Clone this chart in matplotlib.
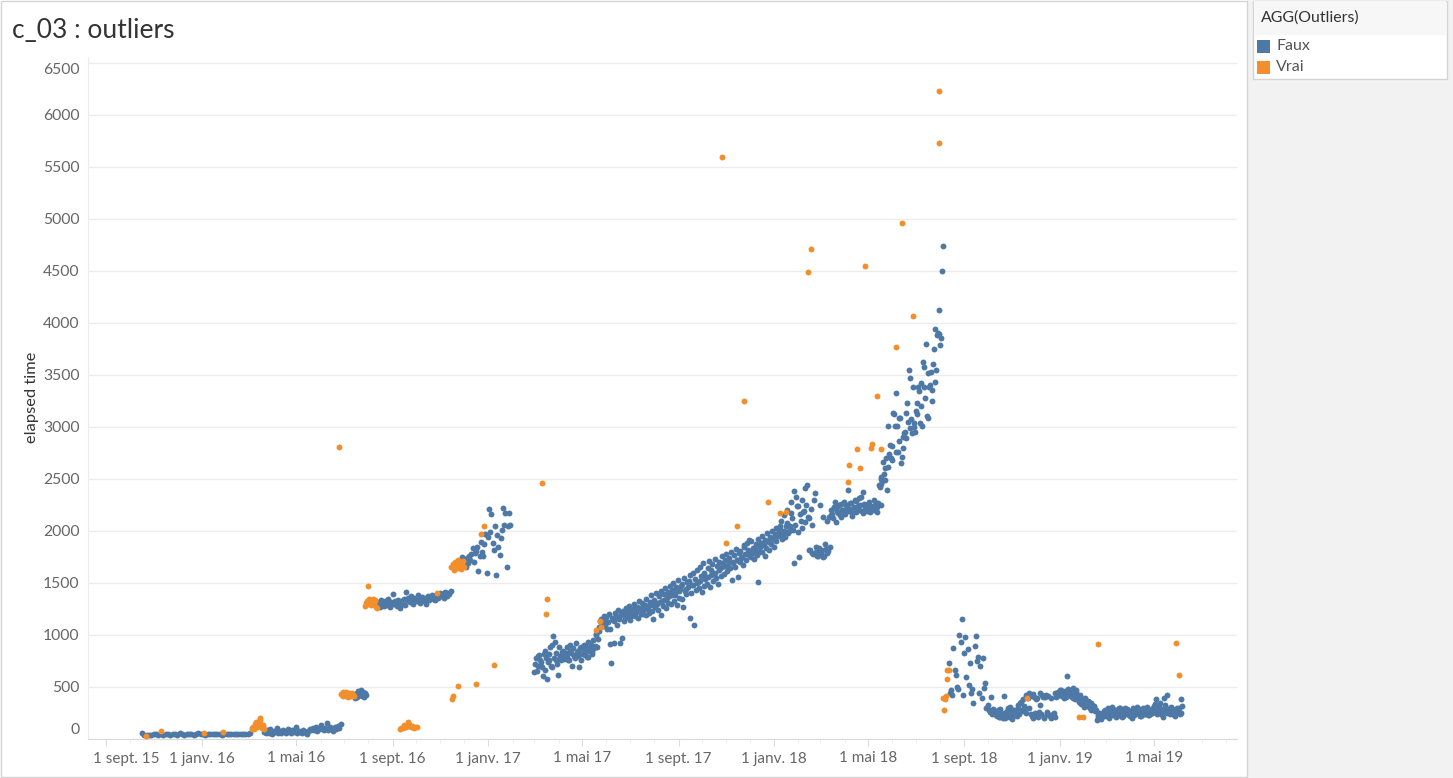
# c_03 : elapsed time per run, outliers flagged in orange

import matplotlib
matplotlib.use('Agg')
import matplotlib.pyplot as plt
import matplotlib.dates as mdates
import matplotlib.transforms as mtransforms
from matplotlib.patches import Rectangle
import pandas as pd

plt.rcParams['font.family'] = ['Lato', 'DejaVu Sans']

# --- data -----------------------------------------------------------------
# "Faux" runs, each block = first date, days between runs, elapsed times
faux_a_start, faux_a_step = '2015-10-17', 3
faux_a = [55, 40, 35, 42, 38, 45, 50, 40, 44, 38, 47, 52, 41, 45, 49, 43, 55, 48,
          42, 46, 51, 44, 40, 47, 53, 45, 49, 42, 46, 50, 44, 48, 52, 45, 43, 49,
          47, 51, 44, 46, 50, 48, 45, 52, 47, 50, 55]

faux_b_start, faux_b_step = '2016-03-21', 2
faux_b = [70, 55, 85, 60, 95, 50, 75, 65, 110, 60, 80, 55, 90, 70, 60, 100, 75, 55,
          85, 65, 120, 60, 80, 70, 55, 90, 65, 50, 75, 95, 85, 105, 90, 120, 80, 100,
          130, 95, 85, 110, 150, 90, 120, 100, 80, 115, 95, 125, 105, 140]

faux_c_start, faux_c_step = '2016-07-14', 1
faux_c = [410, 395, 430, 445, 400, 460, 420, 435, 470, 440, 415, 455, 430, 405, 445, 425]

faux_d_start, faux_d_step = '2016-08-13', 1.5
faux_d = [1290, 1320, 1265, 1340, 1300, 1275, 1330, 1310, 1285, 1350, 1270, 1320,
          1300, 1390, 1295, 1330, 1280, 1340, 1310, 1260, 1325, 1300, 1345, 1290,
          1415, 1340, 1355, 1320, 1370, 1335, 1300, 1360, 1345, 1325, 1380, 1350,
          1310, 1340, 1365, 1330, 1355, 1295, 1345, 1370, 1335, 1360, 1385, 1350,
          1375, 1340, 1395, 1360, 1380, 1400, 1370, 1390, 1355, 1410, 1385, 1375,
          1400, 1395, 1420]

faux_f_start, faux_f_step = '2016-11-27', 1.5
faux_f = [1700, 1753, 1680, 1724, 1650, 1740, 1690, 1760, 1720, 1780, 1840, 1700,
          1790, 1810, 1850, 1618, 1760, 1897, 1800, 1763, 1870, 1974, 1599, 1945,
          2214, 1993, 2166, 1888, 1820, 2048, 1580, 1964, 1850, 1772, 1935, 2013,
          2224, 2061, 2176, 1657, 2051, 2176, 2060]

# 2017 - spring 2018 ramp, two interleaved sets of runs
faux_g_start, faux_g_step = '2017-03-01', 2
faux_g = [640, 780, 700, 810, 740, 690, 820, 660, 575, 760, 880, 690, 990, 935, 760,
          615, 790, 760, 800, 770, 830, 790, 760, 850, 700, 810, 780, 840, 800, 870,
          760, 830, 810, 880, 790, 850, 900, 820, 870, 1010, 880, 1040,
          1130, 1110, 1150, 1090, 1170, 1120, 1060, 730, 1140, 920, 1180, 1100, 1150,
          1200, 970, 1130, 1210, 1170, 1230, 1140, 1190, 1250, 1180, 1220, 1160, 1260,
          1200, 1240, 1280, 1190, 1250, 1210, 1290, 1230, 1150, 1270, 1300, 1240, 1320,
          1190, 1280, 1340, 1260, 1310, 1370,
          1300, 1380, 1330, 1410, 1290, 1360, 1440, 1350, 1265, 1420, 1390, 1460, 1160,
          1400, 1480, 1100, 1430, 1500, 1450, 1520, 1410, 1470, 1540, 1490, 1560, 1460,
          1580, 1520, 1600, 1550, 1490, 1620, 1570, 1650, 1590, 1660, 1610, 1700, 1640,
          1530, 1690, 1650, 1720, 1560,
          1700, 1740, 1670, 1868, 1720, 1780, 1916, 1750, 1800, 1730, 1830, 1770, 1512,
          1850, 1800, 1880, 1760, 1840, 1900, 1820, 1870, 1930, 1850, 1900, 1960,
          1990, 2051, 1920, 2000, 1945, 2080, 1980, 2050, 2176, 2010, 1695, 2330, 2243,
          1753, 2100, 2030, 2190, 2410, 2445, 2120, 1820, 2060, 1780, 2368, 1850, 1760,
          2253, 1800, 2137, 1760, 1830, 2100, 2137, 2200, 2160, 2230, 2282, 2190, 2240,
          2150, 2260, 2200, 2180, 2250, 2397, 2210, 2270, 2170, 2230, 2290, 2200, 2320,
          2250, 2190, 2378, 2230, 2210, 2260, 2180, 2240, 2210, 2200, 2270, 2230, 2445,
          2250]

faux_g2_start, faux_g2_step = '2017-03-02', 2
faux_g2 = [720, 650, 800, 760, 700, 610, 850, 780, 740, 820, 700, 900, 780, 830, 720,
           880, 800, 840,
           850, 810, 880, 760, 900, 830, 870, 800, 920, 850, 695, 880, 820, 900, 860,
           790, 930, 870, 840, 950, 890, 1000, 960, 1080,
           1150, 1090, 1180, 1120, 1060, 1200, 917, 1160, 1130, 1210, 1170, 1240, 925,
           1190, 1230, 1160, 1260, 1210, 1280, 1180, 1240, 1300, 1220, 1270, 1330, 1250,
           1310, 1200, 1290, 1350, 1270, 1320, 1380, 1290, 1340, 1400, 1310, 1370, 1420,
           1330, 1390, 1450, 1360, 1410, 1470,
           1430, 1500, 1380, 1460, 1530, 1420, 1470, 1490, 1550, 1440, 1510, 1520, 1580,
           1480, 1600, 1540, 1620, 1510, 1650, 1570, 1690, 1600, 1560, 1640, 1710, 1620,
           1680, 1590, 1730, 1660, 1700, 1640, 1760, 1690, 1720, 1780, 1650, 1740, 1800,
           1700, 1770, 1830, 1720, 1790,
           1810, 1750, 1850, 1780, 1880, 1820, 1760, 1900, 1840, 1790, 1870, 1920, 1800,
           1880, 1950, 1860, 1910, 1980, 1890, 1940, 2000, 1920, 1970, 2030, 1950,
           2020, 2100, 1960, 2150, 2050, 2200, 2000, 2280, 2120, 2380, 2060, 2240, 1990,
           2160, 2300,
           2180, 2090, 2250, 2130, 1820, 2210, 1790, 2300,
           1800, 1760, 1840, 1780, 1820, 1750, 1870, 1790, 1810, 1850, 2150,
           2120, 2220, 2090, 2170, 2250, 2130, 2200, 2280, 2160, 2230, 2190, 2270, 2140,
           2210, 2300, 2180, 2240, 2200, 2330, 2170, 2260, 2220, 2190, 2280, 2240, 2210,
           2300, 2250, 2180, 2270, 2420, 2500]

faux_h_start, faux_h_step = '2018-05-17', 1
faux_h = [2450, 2522, 2480, 2666, 2550, 2600, 2490, 2700, 2397, 2618, 3004, 2740,
          2830, 2705, 2820, 2680, 3138, 3128, 3013, 2760, 3321, 3004, 2762, 3090,
          2860, 3090, 2656, 2714, 2898, 2801, 2937, 2950, 3138, 2897, 3234, 3050,
          3542, 2985, 3465, 3071, 2940, 3388, 3042, 2994, 2946, 3157, 3234, 3120,
          3388, 3340, 3042, 3426, 3205, 3010, 3619, 3388, 3580, 3280, 3800, 3100,
          3090, 3520, 3388, 3407, 3532, 3350, 3244, 3600, 3753, 3436, 3945, 3542,
          3880, 3900, 4119, 3888, 3791, 3850, 4494, 4740]

faux_i_start, faux_i_step = '2018-08-12', 1.5
faux_i = [734, 446, 470, 420, 878, 667, 618, 503, 480, 1003, 936, 1157, 426, 830,
          983, 599, 868, 522, 734, 446, 480, 350, 897, 993, 753, 791, 440, 705, 398,
          781, 494, 542, 300, 330, 280, 260, 407, 240, 290]

# autumn 2018 - June 2019, two interleaved sets of runs
faux_j_start, faux_j_step = '2018-10-10', 2
faux_j = [250, 220, 280, 210, 240, 200, 417, 230, 301, 210, 260, 190, 240, 280, 220,
          330, 350, 270, 380, 300, 420, 390, 446, 240, 200, 407, 230, 390, 260, 330,
          426, 210, 400, 250, 410, 220, 200, 240, 210, 400, 456, 420, 474, 430, 390,
          450, 609, 420, 440, 400, 494, 380, 450, 410, 370, 340, 380, 310, 350, 320,
          360, 280, 330, 310, 270, 186, 230, 200, 250, 220, 280, 240, 300, 230, 260,
          310, 240, 280, 220, 300, 250, 210, 270, 300, 240, 280, 220, 260, 300, 230,
          270, 250, 290, 220, 260, 240, 280, 310, 230, 270, 250, 300, 340, 380, 270,
          310, 240, 215, 398, 290, 426, 270, 300, 260, 280, 225, 300, 290, 245, 380]

faux_j2_start, faux_j2_step = '2018-10-11', 2
faux_j2 = [230, 260, 210, 290, 220, 250, 200, 270, 240, 310, 215, 280, 230, 260, 300,
           240, 360, 280, 320, 250, 400, 300,
           410, 220, 430, 250, 380, 210, 440, 240, 400, 200, 420, 260, 230, 390, 215,
           250, 440, 410,
           440, 470, 410, 430, 460, 400, 480, 420, 450, 390, 430, 470, 400, 360, 420,
           380, 340, 390, 330, 370, 300, 350, 290, 320, 280,
           210, 250, 190, 240, 270, 220, 260, 200, 290, 250, 230, 280, 210, 260, 300,
           240, 220, 270, 250, 290, 230, 260, 200, 280, 240, 310, 250, 220, 270, 300,
           240, 260, 290, 230, 280, 250, 320, 270, 240, 300, 350, 260, 290, 330, 250,
           280, 240, 310, 270, 230, 290, 260, 300, 250, 320]

# "Vrai" runs: dense clusters (first date, step, values) ...
vrai_c1_start, vrai_c1_step = '2016-03-05', 1
vrai_c1 = [95, 110, 120, 100, 140, 130, 160, 115, 150, 175, 205, 185, 125, 105, 130, 110, 95]
vrai_c2_start, vrai_c2_step = '2016-06-27', 1
vrai_c2 = [430, 420, 455, 410, 440, 425, 415, 450, 430, 405, 445, 420, 435, 410, 440, 425, 415]
vrai_c3_start, vrai_c3_step = '2016-07-28', 1
vrai_c3 = [1280, 1310, 1330, 1470, 1300, 1345, 1320, 1290, 1340, 1315, 1350, 1300,
           1325, 1340, 1270, 1262]
vrai_c4_start, vrai_c4_step = '2016-09-10', 2
vrai_c4 = [95, 110, 105, 130, 120, 165, 140, 115, 125, 110, 120, 115]
vrai_c5_start, vrai_c5_step = '2016-11-15', 1.5
vrai_c5 = [1650, 1680, 1620, 1700, 1660, 1640, 1720, 1690, 1630, 1670, 1710, 1650]

# ... and single points
vrai_dates = ['2015-10-22', '2015-11-10', '2016-01-04', '2016-01-28', '2016-06-25',
              '2016-10-28', '2016-11-16', '2016-11-17', '2016-11-24', '2016-12-17',
              '2016-12-23', '2016-12-27', '2017-01-09', '2017-03-11', '2017-03-16',
              '2017-03-17', '2017-05-19', '2017-05-24', '2017-05-25', '2017-10-26',
              '2017-10-31', '2017-11-15', '2017-11-24', '2017-12-24', '2018-01-09',
              '2018-01-16', '2018-02-13', '2018-02-17', '2018-04-05', '2018-04-07',
              '2018-04-17', '2018-04-21', '2018-04-27', '2018-05-05', '2018-05-06',
              '2018-05-13', '2018-05-17', '2018-06-06', '2018-06-13', '2018-06-27',
              '2018-07-30', '2018-07-31', '2018-08-05', '2018-08-06', '2018-08-07',
              '2018-08-09', '2018-08-10', '2018-08-10', '2018-08-12', '2018-11-20',
              '2019-01-25', '2019-01-31', '2019-02-19', '2019-05-29', '2019-06-02']
vrai_values = [30, 80, 55, 70, 2808,
               1404, 385, 413, 510, 529,
               1971, 2048, 712, 2462, 1202,
               1346, 1050, 1138, 1080, 5596,
               1887, 2051, 3244, 2282, 2176,
               2186, 4484, 4705, 2474, 2637,
               2791, 2609, 4551, 2801, 2839,
               3292, 2791, 3772, 4955, 4061,
               6230, 5730, 398, 275, 380,
               418, 581, 667, 667, 398,
               215, 215, 917, 926, 618]

tick_dates = ['2015-09-01', '2016-01-01', '2016-05-01', '2016-09-01', '2017-01-01',
              '2017-05-01', '2017-09-01', '2018-01-01', '2018-05-01', '2018-09-01',
              '2019-01-01', '2019-05-01']
tick_labels = ['1 sept. 15', '1 janv. 16', '1 mai 16', '1 sept. 16', '1 janv. 17',
               '1 mai 17', '1 sept. 17', '1 janv. 18', '1 mai 18', '1 sept. 18',
               '1 janv. 19', '1 mai 19']
y_ticks = list(range(0, 7000, 500))

BLUE = '#4e79a7'
ORANGE = '#f28e2b'


def expand(start, step, values):
    """Dates for a block of runs spaced `step` days apart."""
    first = pd.Timestamp(start)
    return [first + pd.Timedelta(days=step * i) for i in range(len(values))]


faux_x, faux_y = [], []
for start, step, values in [(faux_a_start, faux_a_step, faux_a),
                            (faux_b_start, faux_b_step, faux_b),
                            (faux_c_start, faux_c_step, faux_c),
                            (faux_d_start, faux_d_step, faux_d),
                            (faux_f_start, faux_f_step, faux_f),
                            (faux_g_start, faux_g_step, faux_g),
                            (faux_g2_start, faux_g2_step, faux_g2),
                            (faux_h_start, faux_h_step, faux_h),
                            (faux_i_start, faux_i_step, faux_i),
                            (faux_j_start, faux_j_step, faux_j),
                            (faux_j2_start, faux_j2_step, faux_j2)]:
    faux_x += expand(start, step, values)
    faux_y += values

vrai_x = [pd.Timestamp(d) for d in vrai_dates]
vrai_y = list(vrai_values)
for start, step, values in [(vrai_c1_start, vrai_c1_step, vrai_c1),
                            (vrai_c2_start, vrai_c2_step, vrai_c2),
                            (vrai_c3_start, vrai_c3_step, vrai_c3),
                            (vrai_c4_start, vrai_c4_step, vrai_c4),
                            (vrai_c5_start, vrai_c5_step, vrai_c5)]:
    vrai_x += expand(start, step, values)
    vrai_y += values

# --- figure, laid out in pixels -------------------------------------------
W, H = 1453, 778
fig = plt.figure(figsize=(W / 100, H / 100), dpi=100)
fig.patch.set_facecolor('white')


def fx(x):
    return x / W


def fy(y):
    return 1 - y / H


# grey side panel and frame of the sheet
fig.patches.append(Rectangle((fx(1247), 0), fx(W - 1247), 1, transform=fig.transFigure,
                             facecolor='#f2f2f2', edgecolor='none', zorder=0))
fig.patches.append(Rectangle((fx(0.5), fy(777)), fx(1246), fy(0.5) - fy(777),
                             transform=fig.transFigure, facecolor='none',
                             edgecolor='#d4d4d4', lw=1, zorder=1))

ax = fig.add_axes([fx(88), fy(739), fx(1237 - 88), fy(57) - fy(739)])
ax.scatter(faux_x, faux_y, s=18, color=BLUE, linewidths=0, clip_on=False, zorder=3)
ax.scatter(vrai_x, vrai_y, s=18, color=ORANGE, linewidths=0, clip_on=False, zorder=4)

ax.set_xlim(pd.Timestamp('2015-08-09'), pd.Timestamp('2019-08-15'))
ax.set_ylim(0, 6555)

for side in ['top', 'right']:
    ax.spines[side].set_visible(False)
ax.spines['left'].set_color('#ececec')
ax.spines['bottom'].set_color('#d9d9d9')

ax.yaxis.grid(True, color='#ececec', lw=1)
ax.set_axisbelow(True)

ax.set_yticks(y_ticks)
ax.set_yticklabels([str(v) for v in y_ticks])
ax.tick_params(axis='y', length=0, pad=6, labelsize=11.3, labelcolor='#666666')

ax.set_xticks([mdates.date2num(pd.Timestamp(d)) for d in tick_dates])
ax.set_xticklabels(tick_labels)
ax.xaxis.set_minor_locator(mdates.MonthLocator())
ax.tick_params(axis='x', which='major', length=5, color='#dddddd', pad=4,
               labelsize=11, labelcolor='#666666')
ax.tick_params(axis='x', which='minor', length=3, color='#eeeeee')

# Tableau keeps the edge labels inside the axis
first = ax.get_xticklabels()[0]
first.set_transform(first.get_transform() +
                    mtransforms.ScaledTranslation(0.20, 0, fig.dpi_scale_trans))
ylabels = ax.get_yticklabels()
ylabels[0].set_transform(ylabels[0].get_transform() +
                         mtransforms.ScaledTranslation(0, 0.10, fig.dpi_scale_trans))
ylabels[-1].set_transform(ylabels[-1].get_transform() +
                          mtransforms.ScaledTranslation(0, -0.06, fig.dpi_scale_trans))

fig.text(fx(32), fy(397), 'elapsed time', rotation=90, ha='center', va='center',
         fontsize=11.8, color='#333333')
fig.text(fx(12), fy(31), 'c_03 : outliers', ha='left', va='center',
         fontsize=19, color='#333333')

# legend card
fig.patches.append(Rectangle((fx(1253), fy(79)), fx(194), fy(1) - fy(79),
                             transform=fig.transFigure, facecolor='white',
                             edgecolor='#d4d4d4', lw=1, zorder=2))
fig.patches.append(Rectangle((fx(1254), fy(35)), fx(192), fy(1.5) - fy(35),
                             transform=fig.transFigure, facecolor='#f7f7f7',
                             edgecolor='none', zorder=2))
fig.text(fx(1261), fy(18), 'AGG(Outliers)', ha='left', va='center', fontsize=11.4,
         color='#333333', zorder=3)
for i, (name, colour) in enumerate([('Faux', BLUE), ('Vrai', ORANGE)]):
    yc = 46 + 21 * i
    fig.patches.append(Rectangle((fx(1257), fy(yc + 6.5)), fx(13), fy(0) - fy(13),
                                 transform=fig.transFigure, facecolor=colour,
                                 edgecolor='none', zorder=3))
    fig.text(fx(1276), fy(yc), name, ha='left', va='center', fontsize=11.5,
             color='#555555', zorder=3)

fig.savefig('out.png', dpi=100)
